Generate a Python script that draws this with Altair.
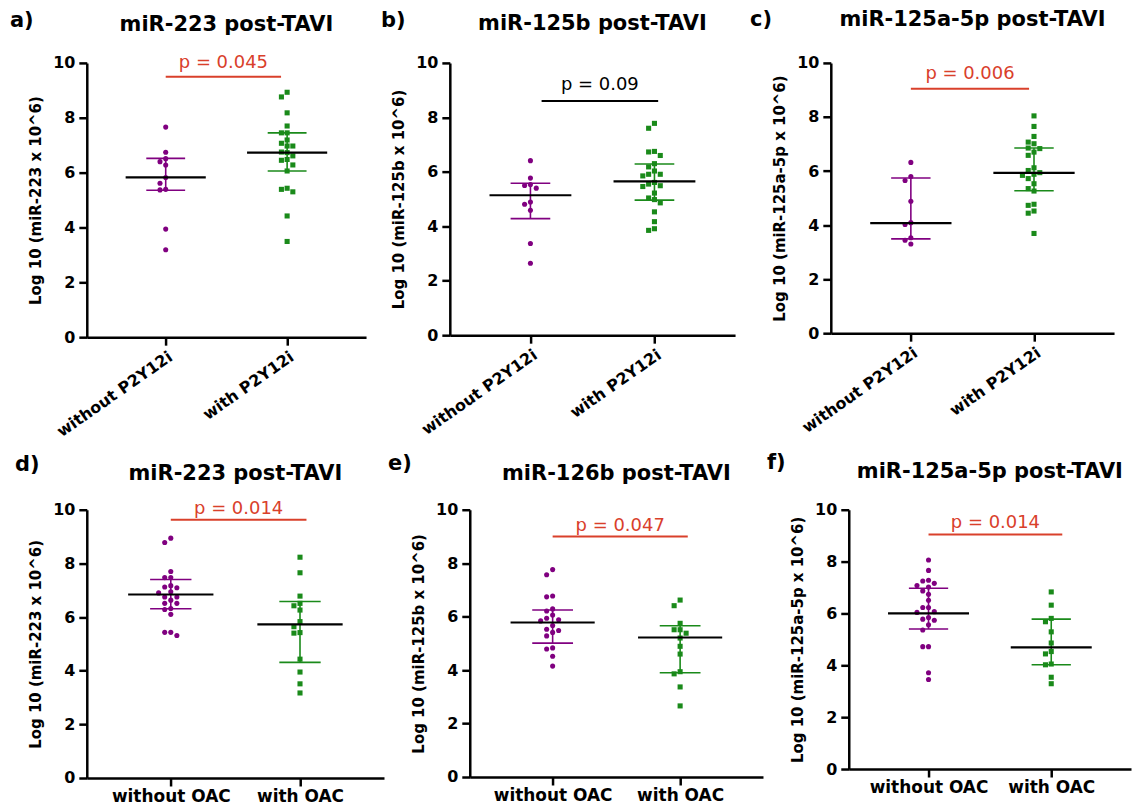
import altair as alt
import pandas as pd

FONT = "DejaVu Sans"
PURPLE = "#800080"
GREEN = "#1A8A1A"
RED = "#D9402B"

# ---------------- data ----------------
panel_labels = ["a)", "b)", "c)", "d)", "e)", "f)"]
titles = ["miR-223 post-TAVI", "miR-125b post-TAVI", "miR-125a-5p post-TAVI",
          "miR-223 post-TAVI", "miR-126b post-TAVI", "miR-125a-5p post-TAVI"]
ytitles = ["Log 10 (miR-223 x 10^6)", "Log 10 (miR-125b x 10^6)", "Log 10 (miR-125a-5p x 10^6)",
           "Log 10 (miR-223 x 10^6)", "Log 10 (miR-125b x 10^6)", "Log 10 (miR-125a-5p x 10^6)"]
names_top = ["without P2Y12i", "with P2Y12i"]
names_bottom = ["without OAC", "with OAC"]

a_without = [7.66, 6.74, 6.51, 6.40, 6.28, 5.82, 5.61, 5.37, 5.39, 3.94, 3.19]
a_with = [8.93, 8.76, 8.18, 7.70, 7.45, 7.45, 7.19, 7.07, 6.97, 6.97, 6.75, 6.73, 6.61,
          6.48, 6.45, 6.28, 6.06, 5.43, 5.30, 5.39, 4.42, 3.49]
b_without = [6.41, 5.77, 5.50, 5.40, 5.53, 4.89, 4.81, 4.59, 3.37, 2.64]
b_with = [7.78, 7.60, 6.75, 6.73, 6.60, 6.30, 6.18, 6.03, 5.91, 5.91, 5.85, 5.55, 5.61,
          5.46, 5.49, 5.22, 5.04, 4.98, 4.86, 4.53, 4.17, 3.85, 3.91]
c_without = [6.32, 5.80, 5.65, 4.88, 4.02, 4.09, 3.53, 3.44, 3.30]
c_with = [8.04, 7.65, 7.28, 7.07, 7.01, 6.85, 6.83, 6.70, 6.58, 6.12, 6.02, 5.94, 5.88,
          5.84, 5.72, 5.53, 5.35, 5.26, 4.77, 4.73, 4.52, 4.44, 3.69]
d_without = [8.94, 8.78, 7.70, 7.47, 7.47, 7.17, 7.12, 7.09, 6.94, 6.90, 6.75, 6.75, 6.63,
             6.51, 6.51, 6.32, 6.28, 6.10, 5.43, 5.43, 5.31]
d_with = [8.23, 7.65, 6.78, 6.51, 6.42, 6.26, 5.83, 5.64, 5.42, 5.40, 4.43, 3.95, 3.51, 3.17]
e_without = [7.76, 7.57, 6.77, 6.74, 6.29, 6.21, 6.06, 5.94, 5.88, 5.84, 5.67, 5.53, 5.48,
             5.41, 5.28, 4.83, 4.79, 4.52, 4.15]
e_with = [6.62, 6.41, 5.75, 5.51, 5.51, 5.38, 5.20, 4.89, 4.60, 3.94, 3.86, 3.37, 2.66]
f_without = [8.06, 7.66, 7.28, 7.25, 7.16, 7.08, 7.02, 6.87, 6.74, 6.51, 6.23, 6.23, 6.07,
             6.04, 5.84, 5.78, 5.74, 5.56, 5.36, 4.72, 4.72, 3.71, 3.45]
f_with = [6.83, 6.32, 5.81, 5.68, 5.29, 4.86, 4.53, 4.44, 4.05, 4.02, 3.54, 3.29]

values_without = [a_without, b_without, c_without, d_without, e_without, f_without]
values_with = [a_with, b_with, c_with, d_with, e_with, f_with]

# median and interquartile range (without, with)
medians = [(5.83, 6.73), (5.14, 5.65), (4.07, 5.93), (6.84, 5.73), (5.78, 5.22), (6.00, 4.69)]
q1s = [(5.36, 6.06), (4.28, 4.96), (3.49, 5.27), (6.31, 4.31), (5.01, 3.90), (5.40, 4.02)]
q3s = [(6.52, 7.45), (5.58, 6.29), (5.74, 6.85), (7.40, 6.58), (6.25, 5.66), (6.97, 5.78)]

p_texts = ["p = 0.045", "p = 0.09", "p = 0.006", "p = 0.014", "p = 0.047", "p = 0.014"]
p_significant = [True, False, True, True, True, True]
p_bar_y = [9.5, 8.6, 9.04, 9.63, 9.0, 9.04]
p_text_y = [10.0, 9.2, 9.6, 10.04, 9.4, 9.5]
p_bar_start = [0.0, 0.09, 0.0, 0.0, 0.0, 0.0]
p_bar_end = [0.95, 1.03, 0.96, 1.05, 1.06, 1.09]

# ---------------- layout ----------------
widths = [280, 286, 284, 298, 294, 283]
heights = [275, 273, 271, 269, 268, 260]
label_dx = [-77, -69, -81, -72, -82, -82]
label_dy = [-42, -42, -43, -45, -46, -47]
title_dy = [-38, -39, -43, -36, -36, -38]

STEP = 0.047


def swarm(vals, thr=0.22):
    order = sorted(range(len(vals)), key=lambda i: -vals[i])
    placed = []
    offs = [0.0] * len(vals)
    for i in order:
        y = vals[i]
        chosen = 0
        for k in [0, -1, 1, -2, 2, -3, 3]:
            if all(not (pk == k and abs(py - y) < thr) for pk, py in placed):
                chosen = k
                break
        placed.append((chosen, y))
        offs[i] = chosen * STEP
    return offs


def make_panel(i, names, rotate):
    wo, wi = values_without[i], values_with[i]
    pts = pd.DataFrame({
        "x": [0 + o for o in swarm(wo)] + [1 + o for o in swarm(wi)],
        "y": wo + wi,
        "grp": ["without"] * len(wo) + ["with"] * len(wi),
    })
    xscale = alt.Scale(domain=[-0.65, 1.65], nice=False, zero=False)
    yscale = alt.Scale(domain=[0, 10], nice=False)
    label_expr = f"datum.value == 0 ? '{names[0]}' : '{names[1]}'"
    if rotate:
        xaxis = alt.Axis(values=[0, 1], labelExpr=label_expr, title=None, labelAngle=325,
                         labelFontSize=16, labelPadding=3)
    else:
        xaxis = alt.Axis(values=[0, 1], labelExpr=label_expr, title=None, labelAngle=0,
                         labelFontSize=17, labelPadding=3)
    yaxis = alt.Axis(values=[0, 2, 4, 6, 8, 10], title=ytitles[i], format="d")
    color = alt.Color("grp:N", scale=alt.Scale(domain=["without", "with"], range=[PURPLE, GREEN]),
                      legend=None)
    shape = alt.Shape("grp:N", scale=alt.Scale(domain=["without", "with"], range=["circle", "square"]),
                      legend=None)

    def X(f):
        return alt.X(f, scale=xscale, axis=xaxis)

    def Y(f):
        return alt.Y(f, scale=yscale, axis=yaxis)

    points = alt.Chart(pts).mark_point(filled=True, size=26, opacity=1).encode(
        x=X("x:Q"), y=Y("y:Q"), color=color, shape=shape)

    summ = pd.DataFrame({"cat": [0, 1], "grp": ["without", "with"],
                         "med": list(medians[i]), "q1": list(q1s[i]), "q3": list(q3s[i])})
    base = alt.Chart(summ)
    vbar = base.mark_rule(strokeWidth=1.6).encode(
        x=X("cat:Q"), y=Y("q1:Q"), y2="q3:Q", color=color)
    capped = base.transform_calculate(a="datum.cat - 0.16", b="datum.cat + 0.16")
    cap_lo = capped.mark_rule(strokeWidth=1.6).encode(
        x=X("a:Q"), x2="b:Q", y=Y("q1:Q"), color=color)
    cap_hi = capped.mark_rule(strokeWidth=1.6).encode(
        x=X("a:Q"), x2="b:Q", y=Y("q3:Q"), color=color)
    med = base.transform_calculate(a="datum.cat - 0.33", b="datum.cat + 0.33").mark_rule(
        strokeWidth=2.2, color="black").encode(x=X("a:Q"), x2="b:Q", y=Y("med:Q"))

    pcol = RED if p_significant[i] else "black"
    pdf = pd.DataFrame({"x0": [p_bar_start[i]], "x1": [p_bar_end[i]],
                        "yb": [p_bar_y[i]], "yt": [p_text_y[i]], "t": [p_texts[i]]})
    pbar = alt.Chart(pdf).mark_rule(color=pcol, strokeWidth=2).encode(
        x=X("x0:Q"), x2="x1:Q", y=Y("yb:Q"))
    ptxt = alt.Chart(pdf).transform_calculate(xm="(datum.x0 + datum.x1) / 2").mark_text(
        color=pcol, font=FONT, fontSize=18, baseline="middle").encode(
        x=X("xm:Q"), y=Y("yt:Q"), text="t:N")

    lab = alt.Chart(pd.DataFrame({"t": [panel_labels[i]]})).mark_text(
        align="left", baseline="middle", font=FONT, fontSize=21, fontWeight="bold",
        color="black").encode(x=alt.value(label_dx[i]), y=alt.value(label_dy[i]), text="t:N")
    ttl = alt.Chart(pd.DataFrame({"t": [titles[i]]})).mark_text(
        align="center", baseline="middle", font=FONT, fontSize=21, fontWeight="bold",
        color="black").encode(x=alt.value(widths[i] / 2), y=alt.value(title_dy[i]), text="t:N")

    return alt.layer(points, vbar, cap_lo, cap_hi, med, pbar, ptxt, lab, ttl).properties(
        width=widths[i], height=heights[i])


panels = [make_panel(i, names_top if i < 3 else names_bottom, i < 3) for i in range(6)]
top = alt.hconcat(panels[0], panels[1], panels[2], spacing=15)
bottom = alt.hconcat(panels[3], panels[4], panels[5], spacing=4)
chart = alt.vconcat(top, bottom, spacing=12).properties(
    padding={"left": 2, "top": 0, "right": 2, "bottom": 0})
chart = chart.configure_view(stroke=None).configure_axis(
    grid=False, domainColor="black", domainWidth=2.5, tickColor="black", tickWidth=2.5,
    tickSize=8, labelColor="black", labelFont=FONT, labelFontWeight="bold", labelFontSize=16,
    labelPadding=4, titleFont=FONT, titleFontWeight="bold", titleFontSize=15,
    titleColor="black", titlePadding=9)

chart.save("out.html", embed_options={"renderer": "svg", "actions": False})
